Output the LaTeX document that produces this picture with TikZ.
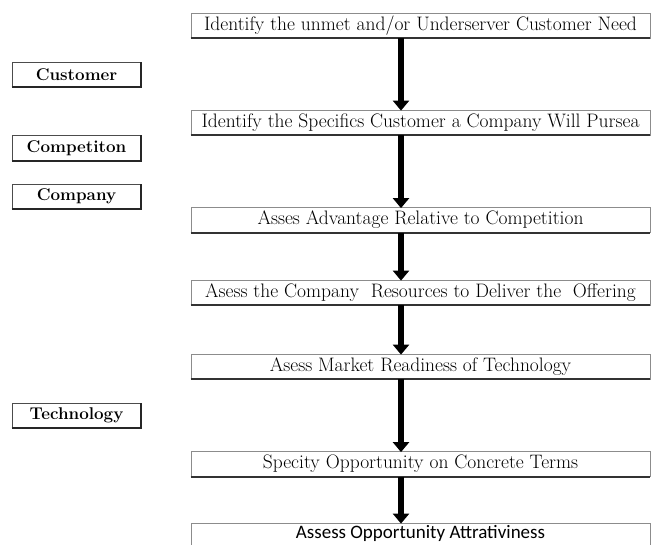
\documentclass[tikz,border=0pt]{standalone}
\usepackage{fontspec}
\newfontfamily\calibrifont{Carlito}
\usetikzlibrary{arrows.meta}

\begin{document}
\begin{tikzpicture}[x=1pt,y=-1pt,
                stagebox/.style={draw=black!45,line width=0.8pt,minimum width=459pt,minimum height=25pt,
                                 inner sep=0pt,font=\fontsize{19.5}{21}\selectfont},
                factorbox/.style={draw=black!70,line width=0.8pt,minimum width=129pt,minimum height=25pt,
                                  inner sep=0pt,font=\fontsize{17}{19}\selectfont\bfseries},
                flow/.style={line width=6pt,-{Triangle[width=16pt,length=10pt]}},
                line cap=butt,line join=miter]
            \clip (0,0) rectangle (652,544);

            % stages of the analysis
            \node [stagebox] (need)   at (420.5,25.5)  {Identify the unmet and/or Underserver Customer Need};
            \node [stagebox] (target) at (420.5,122.5) {Identify the Specifics Customer a Company Will Pursea};
            \node [stagebox] (adv)    at (420.5,220)   {Asses Advantage Relative to Competition};
            \node [stagebox] (res)    at (420.5,292.5) {Asess the Company\ \ Resources to Deliver the\ \ Offering};
            \node [stagebox] (ready)  at (420.5,366.5) {Asess Market Readiness of Technology};
            \node [stagebox] (terms)  at (420.5,464)   {Specity Opportunity on Concrete Terms};
            \node [stagebox,font=\calibrifont\fontsize{19}{21}\selectfont,text height=13pt,text depth=7.5pt]
                  (attr) at (420.5,535.5) {Assess Opportunity Attrativiness};

            % the four factors
            \node [factorbox] (cust)  at (76.5,74.5)  {Customer};
            \node [factorbox] (comp)  at (76.5,148)   {Competiton};
            \node [factorbox] (firm)  at (76.5,196.5) {Company};
            \node [factorbox] (tech)  at (76.5,415.5) {Technology};

            % heavier bottom edges
            \foreach \N in {need,target,adv,res,ready,terms}
                \draw [line width=2pt,black!80] (\N.south west) -- (\N.south east);
            \foreach \N in {cust,comp,firm,tech}
                \draw [line width=2pt,black!85] (\N.south west) -- (\N.south east) -- (\N.north east);

            % arrows
            \draw [flow] ([xshift=-19.5pt]need.south)   -- ([xshift=-19.5pt,yshift=-1pt]target.north);
            \draw [flow] ([xshift=-19.5pt]target.south) -- ([xshift=-19.5pt,yshift=-1pt]adv.north);
            \draw [flow] ([xshift=-19.5pt]adv.south)    -- ([xshift=-19.5pt,yshift=-1pt]res.north);
            \draw [flow] ([xshift=-19.5pt]res.south)    -- ([xshift=-19.5pt,yshift=-1pt]ready.north);
            \draw [flow] ([xshift=-19.5pt]ready.south)  -- ([xshift=-19.5pt,yshift=-1pt]terms.north);
            \draw [flow] ([xshift=-19.5pt]terms.south)  -- ([xshift=-19.5pt,yshift=-1pt]attr.north);
        \end{tikzpicture}
\end{document}
